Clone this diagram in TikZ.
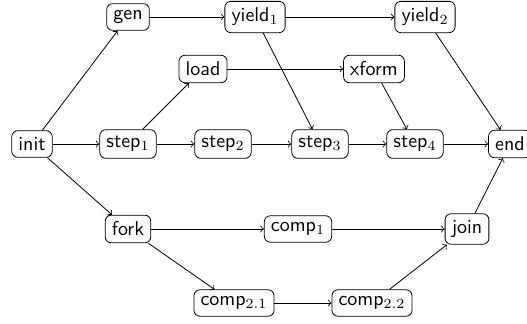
\documentclass[tikz,border=0pt]{standalone}
\usepackage{fontspec}
\begin{document}
\begin{tikzpicture}[x=0.5pt,y=-0.5pt,
  box/.style={draw,rounded corners=3pt,font=\sffamily,inner sep=3.33pt},
  edge/.style={->,line width=0.4pt}]
\useasboundingbox (0,0) rectangle (527,323);
\node[box] (init) at (32,144) {init};
\node[box] (gen) at (128,17) {gen};
\node[box] (y1) at (255,17) {yield$_1$};
\node[box] (y2) at (425,17) {yield$_2$};
\node[box] (load) at (203,69) {load};
\node[box] (xform) at (374,69) {xform};
\node[box] (s1) at (128,144) {step$_1$};
\node[box] (s2) at (223,144) {step$_2$};
\node[box] (s3) at (320,144) {step$_3$};
\node[box] (s4) at (415,144) {step$_4$};
\node[box] (end) at (510,144) {end};
\node[box] (fork) at (128,229) {fork};
\node[box] (c1) at (298,229) {comp$_1$};
\node[box] (join) at (467,229) {join};
\node[box] (c21) at (234,303) {comp$_{2.1}$};
\node[box] (c22) at (372,303) {comp$_{2.2}$};
\draw[edge] (init) -- (gen);
\draw[edge] (init) -- (s1);
\draw[edge] (init) -- (fork);
\draw[edge] (gen) -- (y1);
\draw[edge] (y1) -- (y2);
\draw[edge] (y1) -- (s3);
\draw[edge] (y2) -- (end);
\draw[edge] (s1) -- (load);
\draw[edge] (load) -- (xform);
\draw[edge] (xform) -- (s4);
\draw[edge] (s1) -- (s2);
\draw[edge] (s2) -- (s3);
\draw[edge] (s3) -- (s4);
\draw[edge] (s4) -- (end);
\draw[edge] (fork) -- (c1);
\draw[edge] (c1) -- (join);
\draw[edge] (fork) -- (c21);
\draw[edge] (c21) -- (c22);
\draw[edge] (c22) -- (join);
\draw[edge] (join) -- (end);
\end{tikzpicture}
\end{document}
